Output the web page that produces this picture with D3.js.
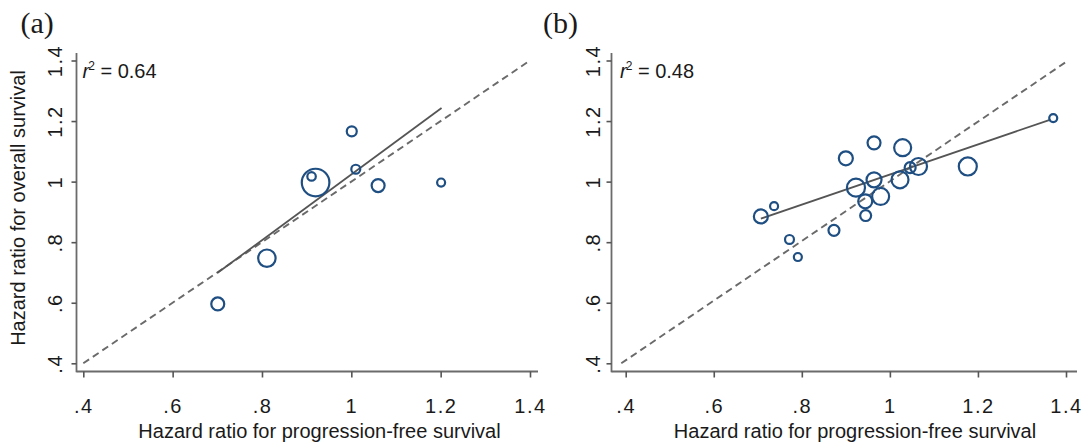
<!DOCTYPE html>
<html>
<head>
<meta charset="utf-8">
<script src="https://cdn.jsdelivr.net/npm/d3@7"></script>
<style>
  html, body { margin: 0; padding: 0; background: #fff; }
  svg { display: block; }
  text { font-family: Arial, "Liberation Sans", sans-serif; fill: #1a1a1a; }
</style>
</head>
<body>
<svg id="chart" width="1085" height="444"></svg>
<script>
// ---- data ----
const tickValues = [0.4, 0.6, 0.8, 1.0, 1.2, 1.4];
const tickLabels = [".4", ".6", ".8", "1", "1.2", "1.4"];

// Panel (a)
const pfsA = [0.701, 0.811, 0.920, 0.911, 1.001, 1.010, 1.060, 1.201];
const osA  = [0.596, 0.747, 0.997, 1.017, 1.166, 1.041, 0.987, 0.997];
const weightA = [42, 76, 190, 18, 25, 20, 42, 16];
const fitA = [[0.700, 0.698], [1.202, 1.243]];
const diagA = [[0.4, 0.4], [1.4, 1.4]];
const r2A = "0.64";

// Panel (b)
const pfsB = [0.707, 0.737, 0.772, 0.791, 0.873, 0.900, 0.964, 1.029, 0.923,
              0.964, 0.979, 0.944, 0.945, 1.023, 1.046, 1.065, 1.177, 1.371];
const osB  = [0.885, 0.919, 0.809, 0.751, 0.839, 1.077, 1.128, 1.112, 0.980,
              1.006, 0.951, 0.935, 0.888, 1.006, 1.046, 1.050, 1.050, 1.210];
const weightB = [49, 16, 20, 16, 30, 49, 42, 72, 81, 56, 72, 49, 30, 72, 30, 72, 81, 16];
const fitB = [[0.707, 0.878], [1.365, 1.205]];
const diagB = [[0.39, 0.4], [1.405, 1.4]];
const r2B = "0.48";

const xTitle = "Hazard ratio for progression-free survival";
const yTitle = "Hazard ratio for overall survival";

// ---- drawing ----
const svg = d3.select("#chart");
const rScale = d3.scaleSqrt().domain([0, 190]).range([0, 13.8]);

function drawPanel(cfg) {
  const x = d3.scaleLinear().domain([0.4, 1.4]).range(cfg.xRange);
  const y = d3.scaleLinear().domain([0.4, 1.4]).range([363.3, 60.5]);
  const g = svg.append("g");

  // axes lines (plot region left/bottom)
  g.append("line").attr("x1", cfg.left).attr("x2", cfg.left)
    .attr("y1", cfg.top).attr("y2", cfg.bottom + 0.8)
    .attr("stroke", "#6b6b6b").attr("stroke-width", 1.8);
  g.append("line").attr("x1", cfg.left).attr("x2", cfg.right)
    .attr("y1", cfg.bottom).attr("y2", cfg.bottom)
    .attr("stroke", "#6b6b6b").attr("stroke-width", 1.8);

  const fmt = (d, i) => tickLabels[i];

  const xa = g.append("g").attr("transform", `translate(0,${cfg.bottom})`)
    .call(d3.axisBottom(x).tickValues(tickValues).tickFormat(fmt).tickSize(6).tickSizeOuter(0));
  xa.select(".domain").remove();
  xa.selectAll(".tick line").attr("stroke", "#555").attr("stroke-width", 1.6);
  xa.selectAll(".tick text").attr("dy", null).attr("y", 41.5)
    .style("font-size", "20px").style("letter-spacing", "1.5px")
    .attr("fill", "#1a1a1a").attr("font-family", null);

  const ya = g.append("g").attr("transform", `translate(${cfg.left},0)`)
    .call(d3.axisLeft(y).tickValues(tickValues).tickFormat(fmt).tickSize(5).tickSizeOuter(0));
  ya.select(".domain").remove();
  ya.selectAll(".tick line").attr("stroke", "#555").attr("stroke-width", 1.6);
  ya.selectAll(".tick text")
    .attr("x", null).attr("dy", null).attr("y", null)
    .attr("text-anchor", "middle")
    .attr("transform", `translate(${cfg.yLabelOff},0) rotate(-90)`)
    .style("font-size", "20px").style("letter-spacing", "1.5px")
    .attr("fill", "#1a1a1a").attr("font-family", null);

  const line = d3.line().x(d => x(d[0])).y(d => y(d[1]));

  // identity (dashed)
  g.append("path").datum(cfg.diag).attr("d", line)
    .attr("fill", "none").attr("stroke", "#6a6a6a")
    .attr("stroke-width", 1.9).attr("stroke-dasharray", "7,4.5");

  // fitted line
  g.append("path").datum(cfg.fit).attr("d", line)
    .attr("fill", "none").attr("stroke", "#555").attr("stroke-width", 1.8);

  // bubbles
  const pts = cfg.pfs.map((v, i) => ({ x: v, y: cfg.os[i], w: cfg.w[i] }));
  g.selectAll("circle.pt").data(pts).enter().append("circle")
    .attr("class", "pt")
    .attr("cx", d => x(d.x)).attr("cy", d => y(d.y))
    .attr("r", d => rScale(d.w))
    .attr("fill", "none").attr("stroke", "#1f4f82").attr("stroke-width", 2.2);

  // r^2 annotation
  const t = g.append("text").attr("x", cfg.r2x).attr("y", 78).style("font-size", "20px");
  t.append("tspan").style("font-style", "italic").text("r");
  t.append("tspan").attr("dy", -8).attr("dx", -1).style("font-size", "12px").text("2");
  t.append("tspan").attr("dy", 8).text(" = " + cfg.r2);

  // x title
  g.append("text").attr("x", cfg.xTitleX).attr("y", 438)
    .attr("text-anchor", "middle").style("font-size", "20px").text(xTitle);

  // panel label
  g.append("text").attr("x", cfg.labelX).attr("y", 33)
    .style("font-family", "'Liberation Serif', 'Times New Roman', serif")
    .style("font-size", "30px").text(cfg.label);

  if (cfg.yTitle) {
    g.append("text")
      .attr("transform", `translate(25,208) rotate(-90)`)
      .attr("text-anchor", "middle").style("font-size", "20px").text(cfg.yTitle);
  }
}

drawPanel({
  xRange: [83.3, 530], left: 76.5, right: 538, top: 53, bottom: 371.5,
  yLabelOff: -14.5, pfs: pfsA, os: osA, w: weightA, fit: fitA, diag: diagA,
  r2: r2A, r2x: 82.5, xTitleX: 319.5, labelX: 20.5, label: "(a)", yTitle: yTitle
});
drawPanel({
  xRange: [625.7, 1066], left: 611.5, right: 1077, top: 53, bottom: 371.5,
  yLabelOff: -12, pfs: pfsB, os: osB, w: weightB, fit: fitB, diag: diagB,
  r2: r2B, r2x: 620, xTitleX: 855, labelX: 543, label: "(b)", yTitle: null
});
</script>
</body>
</html>
